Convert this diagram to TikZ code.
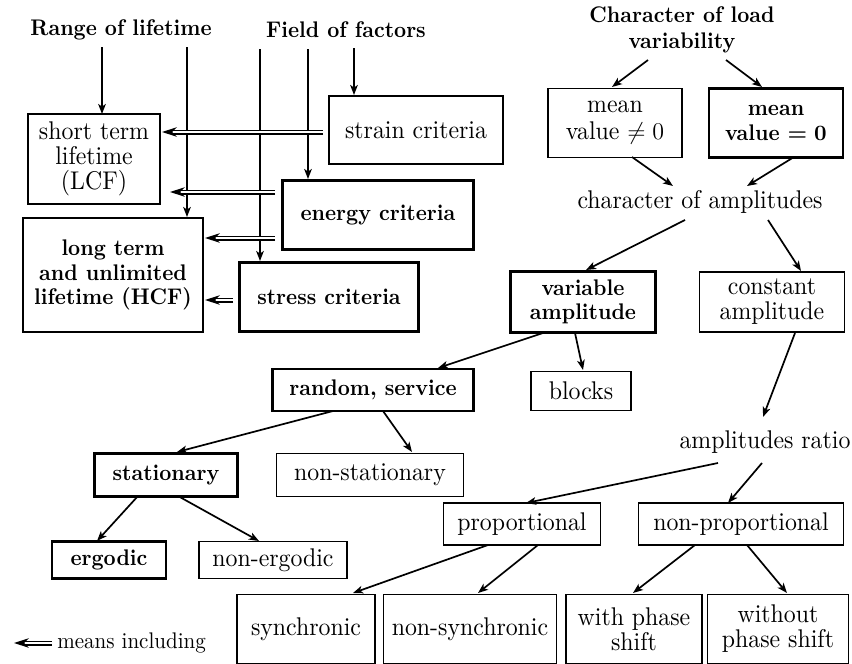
\documentclass[tikz,border=0pt]{standalone}
\usepackage{amsmath,amssymb}
\usepackage{fontspec}
\setmainfont{lmroman10-regular.otf}[BoldFont=lmroman10-bold.otf,
  ItalicFont=lmroman10-italic.otf,FakeStretch=0.93]
\usepackage{tikz}
\usetikzlibrary{arrows.meta,calc}
\tikzset{
  >={Stealth[length=5pt,width=3.8pt,inset=1.3pt]},
  % boxes
  wh/.style 2 args={minimum width=#1*0.5pt,minimum height=#2*0.5pt},
  bx/.style={draw=black,line width=0.65pt,inner sep=0pt,align=center,
             font=\fontsize{12.8}{12.5}\selectfont},
  bxb/.style={bx,line width=1.25pt,font=\fontsize{11.3}{12.3}\selectfont\bfseries\boldmath},
  hd/.style={inner sep=0pt,align=center,font=\fontsize{11.3}{13}\selectfont\bfseries},
  lbl/.style={inner sep=0pt,font=\fontsize{12.8}{12.5}\selectfont},
  % arrows
  arr/.style={->,line width=0.85pt},
  incl/.style={double,double distance=1.2pt,line width=0.65pt,
               -{Stealth[length=7.5pt,width=4.8pt,inset=2.5pt]}},
}

\begin{document}
\begin{tikzpicture}[x=0.5pt,y=-0.5pt]
  \useasboundingbox (0,0) rectangle (852,664);
  % lifetime and factors
  \node[hd] (range) at (121,30) {Range of lifetime};
  \node[hd] (field) at (346,30) {Field of factors};
  \node[bx,wh={132}{90}] (short) at (94,159) {short term\\lifetime\\(LCF)};
  \node[bxb,wh={180}{114}] (long) at (113,275) {long term\\and unlimited\\lifetime (HCF)};
  \node[bx,wh={174}{68}] (strain) at (416,130) {strain criteria};
  \node[bxb,wh={191}{69}] (energy) at (378,215) {energy criteria};
  \node[bxb,wh={179}{69}] (stress) at (329,297) {stress criteria};
  % load variability
  \node[hd] (load) at (682,30) {Character of load\\variability};
  \node[bx,wh={134}{69}] (mne) at (615,123) {mean\\[1pt]value $\neq 0$};
  \node[bxb,wh={134}{69}] (meq) at (776,123) {mean\\value $=0$};
  \node[lbl] (champ) at (700,202) {character of amplitudes};
  \node[bxb,wh={145}{61}] (var) at (583,302) {variable\\amplitude};
  \node[bx,wh={145}{60}] (const) at (772,302) {constant\\amplitude};
  \node[bx,wh={100}{39}] (blocks) at (581,391) {blocks};
  \node[bxb,wh={201}{42}] (random) at (373,390) {random, service};
  \node[lbl] (ratio) at (765,442) {amplitudes ratio};
  \node[bxb,wh={143}{43}] (stat) at (166,475) {stationary};
  \node[bx,wh={187}{43}] (nstat) at (370,475) {non-stationary};
  \node[bx,wh={157}{42}] (prop) at (522,524) {proportional};
  \node[bx,wh={205}{42}] (nprop) at (741,524) {non-proportional};
  \node[bxb,wh={114}{37}] (erg) at (109,560) {ergodic};
  \node[bx,wh={148}{37}] (nerg) at (273,560) {non-ergodic};
  \node[bx,wh={138}{69}] (sync) at (306,629) {synchronic};
  \node[bx,wh={173}{69}] (nsync) at (470,629) {non-synchronic};
  \node[bx,wh={136}{69}] (wph) at (634,629) {with phase\\shift};
  \node[bx,wh={141}{69}] (woph) at (778,629) {without\\phase shift};
  % legend
  \node[lbl,anchor=west,font=\fontsize{11.3}{12}\selectfont] (legend) at (57,643) {means including};
  \coordinate (legtip) at (14,643);

  \draw[arr] ($(range.center)+(-19,17)$) -- ($(short.center)+(8,-45)$);
  \draw[arr] ($(range.center)+(66,17)$) -- ($(long.center)+(74,-58)$);
  \draw[arr] ($(field.center)+(-86,19)$) -- ($(stress.center)+(-69,-36)$);
  \draw[arr] ($(field.center)+(-38,19)$) -- ($(energy.center)+(-70,-36)$);
  \draw[arr] ($(field.center)+(8,18)$) -- ($(strain.center)+(-62,-35)$);
  \draw[incl] ($(strain.center)+(-93,2)$) -- ($(short.center)+(68,-27)$);
  \draw[incl] ($(energy.center)+(-103,-23)$) -- ($(short.center)+(76,33)$);
  \draw[incl] ($(energy.center)+(-103,23)$) -- ($(long.center)+(92,-37)$);
  \draw[incl] ($(stress.center)+(-96,3)$) -- ($(long.center)+(92,25)$);

  \draw[arr] ($(load.center)+(-34,30)$) -- ($(mne.center)+(-3,-36)$);
  \draw[arr] ($(load.center)+(44,30)$) -- ($(meq.center)+(-14,-36)$);
  \draw[arr] ($(mne.center)+(17,34)$) -- ($(champ.center)+(-27,-16)$);
  \draw[arr] ($(meq.center)+(18,34)$) -- ($(champ.center)+(47,-16)$);
  \draw[arr] ($(champ.center)+(-15,18)$) -- ($(var.center)+(3,-32)$);
  \draw[arr] ($(champ.center)+(68,18)$) -- ($(const.center)+(29,-31)$);
  \draw[arr] ($(var.center)+(-40,31)$) -- ($(random.center)+(65,-22)$);
  \draw[arr] ($(var.center)+(-8,31)$) -- ($(blocks.center)+(2,-21)$);
  \draw[arr] ($(const.center)+(23,31)$) -- ($(ratio.center)+(-2,-25)$);
  \draw[arr] ($(ratio.center)+(-47,21)$) -- ($(prop.center)+(4,-21)$);
  \draw[arr] ($(ratio.center)+(-3,21)$) -- ($(nprop.center)+(-13,-21)$);
  \draw[arr] ($(random.center)+(-40,21)$) -- ($(stat.center)+(11,-23)$);
  \draw[arr] ($(random.center)+(10,21)$) -- ($(nstat.center)+(42,-23)$);
  \draw[arr] ($(stat.center)+(-28,21)$) -- ($(erg.center)+(-12,-19)$);
  \draw[arr] ($(stat.center)+(12,21)$) -- ($(nerg.center)+(-14,-19)$);
  \draw[arr] ($(prop.center)+(-34,21)$) -- ($(sync.center)+(47,-36)$);
  \draw[arr] ($(prop.center)+(16,21)$) -- ($(nsync.center)+(8,-36)$);
  \draw[arr] ($(nprop.center)+(-46,21)$) -- ($(wph.center)+(-1,-36)$);
  \draw[arr] ($(nprop.center)+(6,21)$) -- ($(woph.center)+(9,-36)$);
  \draw[incl] ($(legend.west)+(-5,0)$) -- (legtip);
\end{tikzpicture}
\end{document}
